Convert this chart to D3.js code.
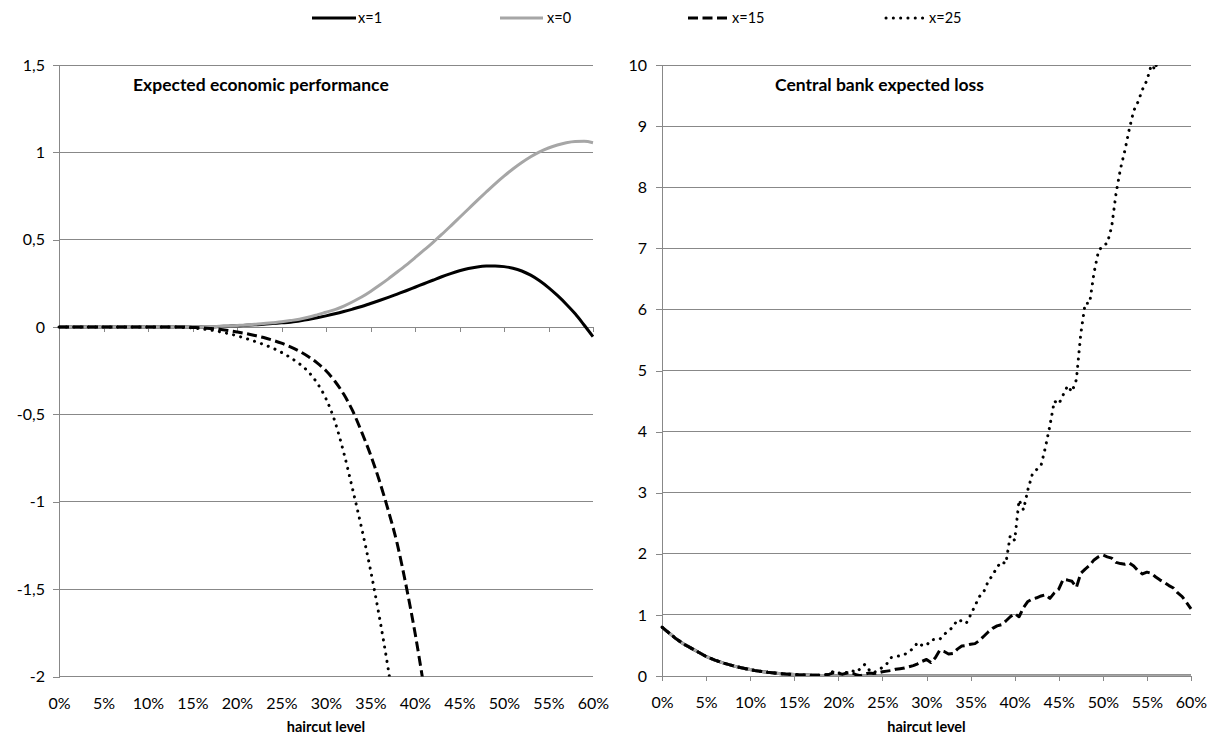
<!DOCTYPE html>
<html><head><meta charset="utf-8">
<script src="https://cdn.jsdelivr.net/npm/d3@7"></script>
<style>body{margin:0;background:#fff}svg{display:block}text{font-family:Lato,"Open Sans",sans-serif}</style>
</head><body><svg id="c" width="1207" height="740"></svg>
<script>
const seriesNames = ["x=1", "x=0", "x=15", "x=25"];
const xTicks = [0, 5, 10, 15, 20, 25, 30, 35, 40, 45, 50, 55, 60];
const leftYTicks = [1.5, 1, 0.5, 0, -0.5, -1, -1.5, -2];
const rightYTicks = [0, 1, 2, 3, 4, 5, 6, 7, 8, 9, 10];
const titles = ["Expected economic performance", "Central bank expected loss"];
const xTitle = "haircut level";

// Left panel: haircut level in %, one point per percent
const leftPct = [0,1,2,3,4,5,6,7,8,9,10,11,12,13,14,15,16,17,18,19,20,21,22,23,24,25,26,27,28,29,30,
  31,32,33,34,35,36,37,38,39,40,41,42,43,44,45,46,47,48,49,50,51,52,53,54,55,56,57,58,59,60];
const leftX1 = [0,0,0,0,0,0,0,0,0,0,0,0,0,0,0,0,0,0.001,0.003,0.005,0.007,0.01,0.013,0.016,0.02,0.024,
  0.028,0.035,0.043,0.053,0.064,0.076,0.089,0.103,0.118,0.135,0.152,0.17,0.189,0.208,0.228,0.248,0.268,
  0.288,0.306,0.322,0.335,0.344,0.349,0.35,0.346,0.337,0.321,0.297,0.265,0.226,0.181,0.131,0.076,0.012,-0.055];
const leftX0 = [0,0,0,0,0,0,0,0,0,0,0,0,0,0,0,0,0.001,0.002,0.004,0.006,0.009,0.012,0.016,0.02,0.025,0.03,
  0.037,0.045,0.056,0.07,0.085,0.1,0.12,0.145,0.172,0.204,0.239,0.276,0.315,0.355,0.397,0.44,0.484,0.53,
  0.578,0.627,0.676,0.725,0.773,0.82,0.864,0.905,0.942,0.975,1.003,1.025,1.042,1.055,1.062,1.063,1.055];
const leftX15 = [0,0,0,0,0,0,0,0,0,0,0,0,0,0,0,-0.002,-0.004,-0.008,-0.013,-0.02,-0.028,-0.037,-0.048,
  -0.06,-0.075,-0.092,-0.113,-0.138,-0.168,-0.205,-0.25,-0.31,-0.385,-0.48,-0.6,-0.73,-0.88,-1.05,-1.24,
  -1.48,-1.75,-2.06,-2.4];
const leftX25 = [0,0,0,0,0,0,0,0,0,0,0,0,0,0,-0.002,-0.005,-0.01,-0.017,-0.026,-0.037,-0.05,-0.065,-0.082,
  -0.1,-0.12,-0.145,-0.175,-0.21,-0.255,-0.32,-0.41,-0.54,-0.72,-0.93,-1.15,-1.39,-1.66,-1.96,-2.3];

// Right panel: haircut level in %, one point per half percent
const rightPct = [0,0.5,1,1.5,2,2.5,3,3.5,4,4.5,5,5.5,6,6.5,7,7.5,8,8.5,9,9.5,10,10.5,11,11.5,12,12.5,13,13.5,
  14,14.5,15,15.5,16,16.5,17,17.5,18,18.5,19,19.5,20,20.5,21,21.5,22,22.5,23,23.5,24,24.5,25,25.5,26,26.5,
  27,27.5,28,28.5,29,29.5,30,30.5,31,31.5,32,32.5,33,33.5,34,34.5,35,35.5,36,36.5,37,37.5,38,38.5,39,39.5,
  40,40.5,41,41.5,42,42.5,43,43.5,44,44.5,45,45.5,46,46.5,47,47.5,48,48.5,49,49.5,50,50.5,51,51.5,52,52.5,
  53,53.5,54,54.5,55,55.5,56,56.5,57,57.5,58,58.5,59,59.5,60];
const rightX0 = [0.80,0.74,0.68,0.62,0.57,0.52,0.48,0.44,0.40,0.36,0.32,0.29,0.26,0.235,0.21,0.19,0.17,0.15,
  0.135,0.12,0.105,0.09,0.08,0.07,0.06,0.052,0.045,0.038,0.032,0.028,0.024,0.02,0.018,0.015,0.013,0.012,0.01,
  0.008,0.006,0.005,0.004,0.003,0.002,0.002,0.001,0.001,
  0,0,0,0,0,0,0,0,0,0, 0,0,0,0,0,0,0,0,0,0, 0,0,0,0,0,0,0,0,0,0, 0,0,0,0,0,0,0,0,0,0,
  0,0,0,0,0,0,0,0,0,0, 0,0,0,0,0,0,0,0,0,0, 0,0,0,0,0,0,0,0,0,0, 0,0,0,0,0];
const rightX1 = [0.80,0.74,0.68,0.62,0.57,0.52,0.48,0.44,0.40,0.36,0.32,0.29,0.26,0.235,0.21,0.19,0.17,0.15,
  0.135,0.12,0.105,0.09,0.08,0.07,0.06,0.052,0.045,0.038,0.032,0.028,0.024,0.02,0.018,0.015,0.013,0.012,0.01,
  0.008,0.006,0.005,0.004,0.003,0.002,0.002,0.001,0.001,
  0,0,0,0,0,0,0,0,0,0, 0,0,0,0,0,0,0,0,0,0, 0,0,0,0,0,0,0,0,0,0, 0,0,0,0,0,0,0,0,0,0,
  0,0,0,0,0,0,0,0,0,0, 0,0,0,0,0,0,0,0,0,0, 0,0,0,0,0,0,0,0,0,0, 0,0,0,0,0];
const rightX15 = [0.80,0.74,0.68,0.62,0.57,0.52,0.48,0.44,0.40,0.36,0.32,0.29,0.26,0.235,0.21,0.19,0.17,0.15,
  0.135,0.12,0.105,0.09,0.08,0.07,0.06,0.052,0.045,0.038,0.032,0.028,0.024,0.02,0.018,0.015,0.013,0.012,0.01,
  0.015,0.03,0.055,0.04,0.03,0.05,0.06,0.02,0.005,0.03,0.05,0.04,0.05,0.07,0.08,0.09,0.11,0.12,0.13,0.15,
  0.17,0.2,0.24,0.27,0.22,0.3,0.42,0.4,0.36,0.37,0.44,0.49,0.5,0.52,0.53,0.58,0.65,0.72,0.78,0.82,0.84,
  0.9,0.97,1.02,0.97,1.12,1.22,1.26,1.28,1.31,1.33,1.27,1.36,1.42,1.58,1.57,1.55,1.45,1.68,1.75,1.81,1.9,
  1.95,1.98,1.95,1.93,1.86,1.84,1.83,1.85,1.8,1.72,1.67,1.7,1.68,1.62,1.57,1.53,1.48,1.44,1.36,1.3,1.2,1.1];
const rightX25 = [0.80,0.74,0.68,0.62,0.57,0.52,0.48,0.44,0.40,0.36,0.32,0.29,0.26,0.235,0.21,0.19,0.17,0.15,
  0.135,0.12,0.105,0.09,0.08,0.07,0.06,0.052,0.045,0.038,0.032,0.028,0.024,0.02,0.018,0.015,0.013,0.012,0.01,
  0.02,0.04,0.08,0.05,0.04,0.06,0.09,0.06,0.12,0.19,0.1,0.05,0.1,0.14,0.2,0.3,0.32,0.33,0.35,0.4,0.45,0.55,
  0.5,0.5,0.59,0.6,0.6,0.68,0.74,0.8,0.92,0.9,0.86,1.0,1.15,1.3,1.38,1.55,1.65,1.78,1.87,1.84,2.3,2.22,
  2.88,2.72,3.05,3.3,3.38,3.45,3.75,4.1,4.5,4.45,4.6,4.75,4.65,4.85,5.6,6.1,6.1,6.6,6.95,7.05,7.08,7.35,
  7.9,8.3,8.6,8.95,9.25,9.4,9.6,9.75,10.0,9.92,10.6,11.3,11.8,12.3,12.8,13.3,13.8,14.3];

const svg = d3.select("#c");
const gridColor = "#888888";
const styles = [
  {color: "#000000", width: 3, dash: null, cap: "butt"},
  {color: "#A6A6A6", width: 3, dash: null, cap: "butt"},
  {color: "#000000", width: 3, dash: "10,4.5", cap: "butt"},
  {color: "#000000", width: 3, dash: "0.1,7.2", cap: "round"}
];

function panel(cfg) {
  const x = d3.scaleLinear().domain([0, 60]).range([cfg.left, cfg.right]);
  const y = d3.scaleLinear().domain(cfg.yDomain).range([cfg.bottom, cfg.top]);
  const g = svg.append("g");
  g.append("g").selectAll("line").data(cfg.yTicks).join("line")
    .attr("x1", cfg.left).attr("x2", cfg.right)
    .attr("y1", d => y(d)).attr("y2", d => y(d))
    .attr("stroke", gridColor).attr("stroke-width", 1).attr("shape-rendering", "crispEdges");
  const ya = g.append("g").attr("transform", `translate(${cfg.left},0)`)
    .call(d3.axisLeft(y).tickValues(cfg.yTicks).tickSize(6).tickPadding(cfg.yPad)
      .tickFormat(d => String(d).replace(".", ",")));
  ya.select(".domain").attr("stroke", gridColor).attr("shape-rendering", "crispEdges");
  ya.selectAll(".tick line").attr("stroke", gridColor).attr("shape-rendering", "crispEdges");
  ya.selectAll("text").attr("font-size", 16).attr("fill", "#000").attr("font-family", "Lato");
  const xa = g.append("g").attr("transform", `translate(0,${y(0)})`)
    .call(d3.axisBottom(x).tickValues(xTicks).tickSize(5).tickFormat(""));
  xa.select(".domain").attr("stroke", gridColor).attr("shape-rendering", "crispEdges");
  xa.selectAll(".tick line").attr("stroke", gridColor).attr("shape-rendering", "crispEdges");
  const xl = g.append("g").attr("transform", `translate(0,${cfg.bottom})`)
    .call(d3.axisBottom(x).tickValues(xTicks).tickSize(0).tickPadding(21).tickFormat(d => d + "%"));
  xl.select(".domain").remove();
  xl.selectAll("text").attr("font-size", 16).attr("fill", "#000").attr("font-family", "Lato");
  const id = "clip" + cfg.key;
  svg.append("clipPath").attr("id", id).append("rect")
    .attr("x", cfg.left - 5).attr("y", cfg.top).attr("width", cfg.right - cfg.left + 10)
    .attr("height", cfg.bottom - cfg.top);
  const lines = g.append("g").attr("clip-path", `url(#${id})`);
  cfg.series.forEach((vals, i) => {
    const pts = vals.map((v, k) => [cfg.pct[k], v]);
    const s = styles[i];
    lines.append("path").datum(pts)
      .attr("d", d3.line().curve(cfg.curve).x(d => x(d[0])).y(d => y(d[1])))
      .attr("fill", "none").attr("stroke", s.color).attr("stroke-width", s.width)
      .attr("stroke-dasharray", s.dash).attr("stroke-linecap", s.cap).attr("stroke-linejoin", "round");
  });
  g.append("text").attr("x", cfg.titleX).attr("y", 91).text(cfg.title)
    .attr("font-size", 17.5).attr("font-weight", "bold").attr("fill", "#000");
  g.append("text").attr("x", (cfg.left + cfg.right) / 2).attr("y", 732).attr("text-anchor", "middle")
    .text(xTitle).attr("font-size", 14.5).attr("font-weight", "bold").attr("fill", "#000");
}

panel({key: "L", left: 59, right: 593, top: 65, bottom: 676.5, yDomain: [-2, 1.5], yTicks: leftYTicks,
  yPad: 8, pct: leftPct, series: [leftX1, leftX0, leftX15, leftX25], title: titles[0], titleX: 133,
  curve: d3.curveMonotoneX});
panel({key: "R", left: 662, right: 1191, top: 65, bottom: 676, yDomain: [0, 10], yTicks: rightYTicks,
  yPad: 9, pct: rightPct, series: [rightX1, rightX0, rightX15, rightX25], title: titles[1], titleX: 775,
  curve: d3.curveLinear});

const legendItems = [
  {x1: 312, x2: 356, tx: 358},
  {x1: 500, x2: 543, tx: 547},
  {x1: 688, x2: 727, tx: 732},
  {x1: 886, x2: 923, tx: 929}
];
const lg = svg.append("g");
legendItems.forEach((it, i) => {
  const s = styles[i];
  lg.append("line").attr("x1", it.x1).attr("x2", it.x2).attr("y1", 18).attr("y2", 18)
    .attr("stroke", s.color).attr("stroke-width", s.width).attr("stroke-dasharray", s.dash)
    .attr("stroke-linecap", s.cap);
  lg.append("text").attr("x", it.tx).attr("y", 18).attr("dy", "0.35em").text(seriesNames[i])
    .attr("font-size", 14.5).attr("fill", "#000");
});
</script></body></html>
